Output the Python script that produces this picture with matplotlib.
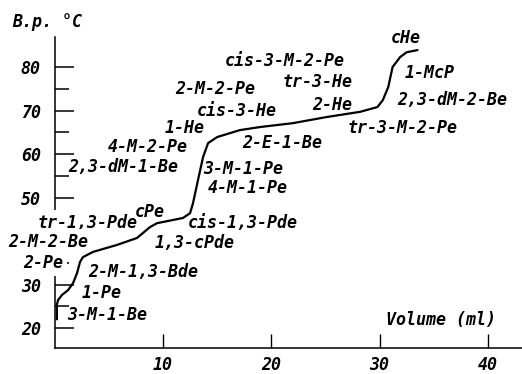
import numpy as np
import matplotlib
matplotlib.use('Agg')
import matplotlib.pyplot as plt
from matplotlib.ticker import FixedLocator

# elution curve: boiling point vs. eluted volume
volume = [0.2, 0.2, 0.3, 0.67, 1.23, 1.69, 2.06, 2.34, 2.61, 3.54, 5.75, 7.6, 8.8,
          9.45, 11.85, 12.5, 12.77, 13.23, 13.7, 14.16, 15.0, 17.1, 18.95, 22.0,
          25.1, 28.2, 29.8, 30.3, 30.8, 31.2, 31.9, 32.5, 33.5]
bp = [22.0, 25.3, 26.4, 27.6, 28.7, 30.3, 32.6, 35.2, 36.3, 37.5, 39.1, 40.7, 43.2,
      44.1, 45.3, 46.4, 48.7, 54.0, 59.3, 62.5, 63.9, 65.5, 66.2, 67.1,
      68.5, 69.7, 70.8, 72.4, 75.4, 80.0, 82.3, 83.4, 83.9]

yticks = [20, 30, 40, 50, 60, 70, 80]
yticklabels = ['20', '30', '', '50', '60', '70', '80']
xticks = [10, 20, 30, 40]

# compound names along the curve
names = ['cHe', 'cis-3-M-2-Pe', '1-McP', 'tr-3-He', '2-M-2-Pe', '2,3-dM-2-Be',
         '2-He', 'cis-3-He', '1-He', 'tr-3-M-2-Pe', '2-E-1-Be', '4-M-2-Pe',
         '2,3-dM-1-Be', '3-M-1-Pe', '4-M-1-Pe', 'cPe', 'tr-1,3-Pde',
         'cis-1,3-Pde', '2-M-2-Be', '1,3-cPde', '2-Pe', '2-M-1,3-Bde',
         '1-Pe', '3-M-1-Be']
name_xy = [(31.0, 86.7), (15.72, 81.4), (32.35, 78.6), (21.08, 76.6),
           (11.11, 74.9), (31.61, 72.4), (23.76, 71.3), (13.14, 69.9),
           (10.19, 66.0), (27.08, 66.0), (17.3, 62.5), (4.92, 61.6),
           (1.23, 57.0), (13.7, 56.6), (14.15, 52.2), (7.41, 46.7),
           (-1.54, 44.1), (12.31, 44.1), (-4.31, 39.8), (9.26, 39.5),
           (-2.93, 34.9), (3.07, 32.9), (2.52, 28.0), (1.14, 23.0)]
# these sit over the y axis and blank it out
masked = ['tr-1,3-Pde', '2-M-2-Be', '2-Pe']

font = dict(family='DejaVu Sans Mono', style='italic', weight='bold', fontsize=12)

fig = plt.figure(figsize=(5.22, 3.74), dpi=100)
ax = fig.add_axes([0.1048, 0.0695, 0.8952, 0.8315])

ax.plot(volume, bp, color='k', linewidth=1.6, solid_capstyle='round', zorder=4)

ax.set_xlim(0, 43.15)
ax.set_ylim(15.4, 86.9)
ax.spines['right'].set_visible(False)
ax.spines['top'].set_visible(False)
ax.spines['left'].set_linewidth(1.1)
ax.spines['bottom'].set_linewidth(1.1)

ax.set_xticks(xticks)
ax.set_xticklabels([str(t) for t in xticks])
ax.set_yticks(yticks)
ax.set_yticklabels(yticklabels)
ax.yaxis.set_minor_locator(FixedLocator([25, 35, 45, 55, 65, 75]))
ax.tick_params(axis='y', which='major', direction='in', length=14, width=1.1, pad=10)
ax.tick_params(axis='y', which='minor', direction='in', length=10, width=1.1)
ax.tick_params(axis='x', which='major', direction='in', length=10, width=1.0, pad=6)
for lab in ax.get_xticklabels() + ax.get_yticklabels():
    lab.set_fontfamily(font['family'])
    lab.set_fontstyle('italic')
    lab.set_fontweight(font['weight'])
    lab.set_fontsize(font['fontsize'])

for name, (x, y) in zip(names, name_xy):
    box = None
    z = 5
    if name in masked:
        box = dict(facecolor='white', edgecolor='none', pad=3)
        z = 3
    ax.text(x, y, name, ha='left', va='center', clip_on=False, zorder=z,
            bbox=box, **font)

fig.text(12 / 522, 1 - 22 / 374, 'B.p. °C', ha='left', va='center', **font)
ax.text(30.6, 21.8, 'Volume (ml)', ha='left', va='center', **font)

plt.savefig('out.png', dpi=100)
plt.close()
